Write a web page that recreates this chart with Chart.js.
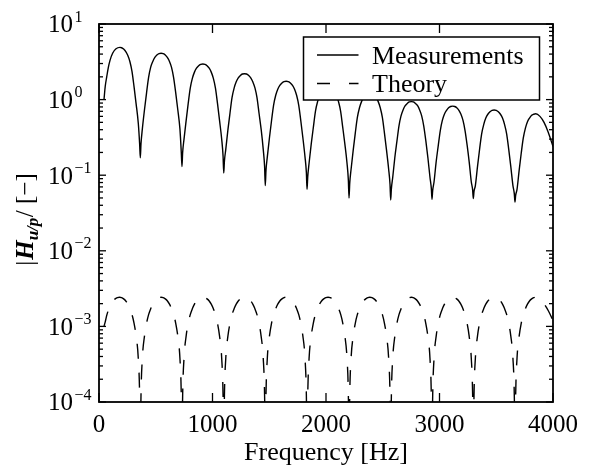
<!DOCTYPE html>
<html>
<head>
<meta charset="utf-8">
<script src="https://cdn.jsdelivr.net/npm/chart.js@4/dist/chart.umd.min.js"></script>
<style>
  html, body { margin: 0; padding: 0; background: #fff; }
  #wrap { width: 593px; height: 474px; }
</style>
</head>
<body>
<div id="wrap"><canvas id="c" width="593" height="474"></canvas></div>
<script>
// ---------- data ----------
const seriesNames = ['Measurements', 'Theory'];

const measFreq = [
  44,55,68,82,97,120,150,185,199,217,236,254,272,291,309,327,346,358,364,
  370,382,401,419,437,455,474,492,510,529,547,566,584,602,621,639,657,676,694,713,725,731,
  737,749,768,786,804,823,841,859,878,896,915,934,952,971,989,1007,1026,1044,1062,1081,1093,1099,
  1105,1117,1136,1154,1172,1191,1209,1227,1246,1264,1282,1300,1319,1337,1355,1374,1392,1410,1429,1447,1459,1465,
  1471,1483,1502,1520,1538,1557,1575,1593,1612,1630,1649,1668,1686,1705,1723,1741,1760,1778,1796,1815,1827,1833,
  1839,1851,1870,1889,1907,1926,1944,1963,1981,2000,2018,2036,2055,2073,2092,2110,2129,2147,2166,2185,2197,2203,
  2209,2221,2240,2258,2276,2295,2313,2331,2350,2368,2386,2405,2423,2442,2460,2478,2497,2515,2533,2552,2564,2570,
  2576,2588,2606,2625,2643,2661,2679,2698,2716,2734,2752,2770,2788,2807,2825,2843,2861,2880,2898,2916,2928,2934,
  2940,2952,2970,2989,3007,3025,3043,3062,3080,3098,3116,3134,3152,3171,3189,3207,3225,3244,3262,3280,3292,3298,
  3304,3316,3335,3353,3371,3390,3408,3426,3445,3463,3481,3500,3518,3537,3555,3573,3592,3610,3628,3647,3659,3665,
  3671,3683,3702,3720,3738,3757,3775,3793,3812,3830,3848,3885,3921,3958,4000
];
const measMag = [
  1.0,1.5,2.0,2.65,3.3,4.1,4.7,4.9,4.85,4.66,4.31,3.82,3.19,2.35,1.47,0.88,0.49,0.26,0.17,
  .26,.41,.74,1.23,1.97,2.67,3.2,3.61,3.9,4.06,4.1,4.06,3.9,3.61,3.2,2.67,1.97,1.23,.74,.41,.2,.13,
  .2,.3,.53,.89,1.42,1.92,2.31,2.6,2.81,2.93,2.96,2.93,2.81,2.6,2.31,1.92,1.42,.89,.53,.3,.18,.107,
  .153,.22,.4,.66,1.06,1.43,1.72,1.94,2.09,2.18,2.2,2.18,2.09,1.94,1.72,1.43,1.06,.66,.4,.22,.13,.073,
  .114,.175,.315,.525,.84,1.14,1.37,1.54,1.66,1.73,1.75,1.73,1.66,1.54,1.37,1.14,.84,.525,.315,.175,.109,.065,
  .095,.145,.26,.435,.70,.94,1.13,1.28,1.38,1.44,1.45,1.44,1.38,1.28,1.13,.94,.70,.435,.26,.145,.086,.05,
  .078,.12,.216,.36,.576,.78,.94,1.06,1.14,1.19,1.2,1.19,1.14,1.06,.94,.78,.576,.36,.216,.12,.076,.047,
  .066,.094,.169,.282,.45,.61,.73,.83,.89,.93,.94,.93,.89,.83,.73,.61,.45,.282,.169,.094,.067,.048,
  .063,.082,.148,.246,.39,.53,.64,.72,.78,.81,.82,.81,.78,.72,.64,.53,.39,.246,.148,.082,.064,.049,
  .061,.073,.131,.219,.35,.47,.57,.64,.69,.72,.73,.72,.69,.64,.57,.47,.35,.219,.131,.073,.057,.044,
  .054,.065,.117,.195,.31,.42,.51,.57,.62,.64,.65,.6,.5,.37,.24
];

const theoFreq = [
  44,55,70,88,107,125,143,162,181,199,217,236,254,272,291,309,327,346,358,362,364,
  366,370,382,401,419,437,456,474,492,511,529,547,566,584,603,621,639,658,676,694,713,725,729,731,
  733,737,749,768,786,804,823,841,859,878,896,915,934,952,971,989,1007,1026,1044,1062,1081,1093,1097,1099,
  1101,1105,1117,1136,1154,1172,1191,1209,1227,1246,1264,1282,1300,1318,1337,1355,1373,1392,1410,1428,1447,1459,1463,1465,
  1467,1471,1483,1502,1520,1538,1557,1575,1593,1612,1630,1649,1668,1686,1705,1723,1741,1760,1778,1796,1815,1827,1831,1833,
  1835,1839,1851,1870,1888,1906,1925,1943,1961,1980,1998,2018,2038,2056,2075,2093,2111,2130,2148,2166,2185,2197,2201,2203,
  2205,2209,2221,2240,2258,2276,2295,2313,2331,2350,2368,2386,2405,2423,2442,2460,2478,2497,2515,2533,2552,2564,2568,2570,
  2572,2576,2588,2607,2625,2643,2662,2680,2698,2717,2735,2752,2769,2787,2806,2824,2842,2861,2879,2897,2916,2928,2932,2934,
  2936,2940,2952,2971,2989,3007,3026,3044,3062,3081,3099,3116,3133,3151,3170,3188,3206,3225,3243,3261,3280,3292,3296,3298,
  3300,3304,3316,3335,3353,3371,3390,3408,3426,3445,3463,3481,3500,3518,3537,3555,3573,3592,3610,3628,3647,3659,3663,3665,
  3667,3671,3683,3702,3720,3738,3757,3775,3793,3812,3830,3848,3885,3920,3960,4000
];
const theoMag = [
  1.0e-3,1.15e-3,1.43e-3,1.72e-3,1.97e-3,2.17e-3,2.31e-3,2.4e-3,2.43e-3,2.4e-3,2.31e-3,2.17e-3,1.97e-3,1.72e-3,1.43e-3,1.1e-3,7.5e-4,3.8e-4,1.22e-4,3.8e-5,1e-5,
  3.8e-5,1.22e-4,3.8e-4,7.5e-4,1.1e-3,1.43e-3,1.72e-3,1.97e-3,2.17e-3,2.31e-3,2.4e-3,2.43e-3,2.4e-3,2.31e-3,2.17e-3,1.97e-3,1.72e-3,1.43e-3,1.1e-3,7.5e-4,3.8e-4,1.22e-4,3.8e-5,1e-5,
  3.8e-5,1.22e-4,3.8e-4,7.5e-4,1.1e-3,1.43e-3,1.72e-3,1.97e-3,2.17e-3,2.31e-3,2.4e-3,2.43e-3,2.4e-3,2.31e-3,2.17e-3,1.97e-3,1.72e-3,1.43e-3,1.1e-3,7.5e-4,3.8e-4,1.22e-4,3.8e-5,1e-5,
  3.8e-5,1.22e-4,3.8e-4,7.5e-4,1.1e-3,1.43e-3,1.72e-3,1.97e-3,2.17e-3,2.31e-3,2.4e-3,2.43e-3,2.4e-3,2.31e-3,2.17e-3,1.97e-3,1.72e-3,1.43e-3,1.1e-3,7.5e-4,3.8e-4,1.22e-4,3.8e-5,1e-5,
  3.8e-5,1.22e-4,3.8e-4,7.5e-4,1.1e-3,1.43e-3,1.72e-3,1.97e-3,2.17e-3,2.31e-3,2.4e-3,2.43e-3,2.4e-3,2.31e-3,2.17e-3,1.97e-3,1.72e-3,1.43e-3,1.1e-3,7.5e-4,3.8e-4,1.22e-4,3.8e-5,1e-5,
  3.8e-5,1.22e-4,3.8e-4,7.5e-4,1.1e-3,1.43e-3,1.72e-3,1.97e-3,2.17e-3,2.31e-3,2.4e-3,2.43e-3,2.4e-3,2.31e-3,2.17e-3,1.97e-3,1.72e-3,1.43e-3,1.1e-3,7.5e-4,3.8e-4,1.22e-4,3.8e-5,1e-5,
  3.8e-5,1.22e-4,3.8e-4,7.5e-4,1.1e-3,1.43e-3,1.72e-3,1.97e-3,2.17e-3,2.31e-3,2.4e-3,2.43e-3,2.4e-3,2.31e-3,2.17e-3,1.97e-3,1.72e-3,1.43e-3,1.1e-3,7.5e-4,3.8e-4,1.22e-4,3.8e-5,1e-5,
  3.8e-5,1.22e-4,3.8e-4,7.5e-4,1.1e-3,1.43e-3,1.72e-3,1.97e-3,2.17e-3,2.31e-3,2.4e-3,2.43e-3,2.4e-3,2.31e-3,2.17e-3,1.97e-3,1.72e-3,1.43e-3,1.1e-3,7.5e-4,3.8e-4,1.22e-4,3.8e-5,1e-5,
  3.8e-5,1.22e-4,3.8e-4,7.5e-4,1.1e-3,1.43e-3,1.72e-3,1.97e-3,2.17e-3,2.31e-3,2.4e-3,2.43e-3,2.4e-3,2.31e-3,2.17e-3,1.97e-3,1.72e-3,1.43e-3,1.1e-3,7.5e-4,3.8e-4,1.22e-4,3.8e-5,1e-5,
  3.8e-5,1.22e-4,3.8e-4,7.5e-4,1.1e-3,1.43e-3,1.72e-3,1.97e-3,2.17e-3,2.31e-3,2.4e-3,2.43e-3,2.4e-3,2.31e-3,2.17e-3,1.97e-3,1.72e-3,1.43e-3,1.1e-3,7.5e-4,3.8e-4,1.22e-4,3.8e-5,1e-5,
  3.8e-5,1.22e-4,3.8e-4,7.5e-4,1.1e-3,1.43e-3,1.72e-3,1.97e-3,2.17e-3,2.31e-3,2.4e-3,2.43e-3,2.3e-3,2.0e-3,1.6e-3,1.2e-3
];

const xTickValues = [0, 1000, 2000, 3000, 4000];
const xTickLabels = ['0', '1000', '2000', '3000', '4000'];
const yDecadeExponents = [-4, -3, -2, -1, 0, 1];
const xTitle = 'Frequency [Hz]';
const yTitleParts = ['|', 'H', 'u/p', '/ [\u2212]'];

// ---------- drawing ----------
const SERIF = '"Liberation Serif", "Times New Roman", serif';

const framePlugin = {
  id: 'frame',
  afterDatasetsDraw(chart) {
    const { ctx, chartArea: a, scales: { x, y } } = chart;
    ctx.save();
    ctx.strokeStyle = '#000';
    ctx.fillStyle = '#000';

    // legend box
    const lx = 303.5, ly = 37, lw = 236, lh = 63;
    ctx.fillStyle = '#fff';
    ctx.fillRect(lx, ly, lw, lh);
    ctx.lineWidth = 1.5;
    ctx.strokeRect(lx, ly, lw, lh);
    ctx.fillStyle = '#000';
    const ds = chart.data.datasets;
    const rows = [55, 83.5];
    const legendDash = [[], [13, 19]];
    ds.forEach((d, i) => {
      ctx.beginPath();
      ctx.lineWidth = 1.3;
      ctx.setLineDash(legendDash[i]);
      ctx.moveTo(317, rows[i]);
      ctx.lineTo(358.5, rows[i]);
      ctx.stroke();
      ctx.setLineDash([]);
      ctx.font = '26px ' + SERIF;
      ctx.textAlign = 'left';
      ctx.textBaseline = 'alphabetic';
      ctx.fillText(d.label, 372, rows[i] + 8.5);
    });

    // axes box
    ctx.lineWidth = 1.8;
    ctx.strokeRect(a.left, a.top, a.right - a.left, a.bottom - a.top);

    // x ticks (inward, bottom and top)
    ctx.lineWidth = 1.3;
    const seg = (x1, y1, x2, y2) => { ctx.beginPath(); ctx.moveTo(x1, y1); ctx.lineTo(x2, y2); ctx.stroke(); };
    xTickValues.forEach(v => {
      const px = x.getPixelForValue(v);
      seg(px, a.bottom, px, a.bottom - 9);
      seg(px, a.top, px, a.top + 9);
    });

    // y ticks (inward, left and right) + labels
    yDecadeExponents.forEach(e => {
      const base = Math.pow(10, e);
      const py = y.getPixelForValue(base);
      seg(a.left, py, a.left + 7, py);
      seg(a.right, py, a.right - 7, py);
      if (e < yDecadeExponents[yDecadeExponents.length - 1]) {
        for (let k = 2; k <= 9; k++) {
          const pm = y.getPixelForValue(k * base);
          seg(a.left, pm, a.left + 4, pm);
          seg(a.right, pm, a.right - 4, pm);
        }
      }
      ctx.font = '25px ' + SERIF;
      ctx.textAlign = 'right';
      ctx.textBaseline = 'alphabetic';
      ctx.fillText('10', 73, py + 8.3);
      ctx.font = '16px ' + SERIF;
      ctx.textAlign = 'left';
      ctx.fillText(e < 0 ? '\u2212' + (-e) : String(e), 74.5, py - 2.5);
    });

    // y axis title (rotated, mixed fonts)
    const fonts = ['25px ' + SERIF, 'italic bold 25px ' + SERIF, 'italic bold 17px ' + SERIF, '25px ' + SERIF];
    const shifts = [0, 0, 5, 0];
    const gaps = [1, 0, 0.5, 0];
    let total = 0;
    const widths = yTitleParts.map((t, i) => { ctx.font = fonts[i]; const w = ctx.measureText(t).width; total += w + gaps[i]; return w; });
    ctx.translate(33, 219.5);
    ctx.rotate(-Math.PI / 2);
    ctx.textAlign = 'left';
    ctx.textBaseline = 'alphabetic';
    let cx = -total / 2;
    yTitleParts.forEach((t, i) => {
      ctx.font = fonts[i];
      ctx.fillText(t, cx, shifts[i]);
      cx += widths[i] + gaps[i];
    });
    ctx.restore();
  }
};

const toPoints = (xs, ys) => xs.map((f, i) => ({ x: f, y: ys[i] }));

new Chart(document.getElementById('c'), {
  type: 'line',
  data: {
    datasets: [
      {
        label: seriesNames[0],
        data: toPoints(measFreq, measMag),
        borderColor: '#000',
        borderWidth: 1.4,
        pointRadius: 0,
        fill: false,
        cubicInterpolationMode: 'monotone'
      },
      {
        label: seriesNames[1],
        data: toPoints(theoFreq, theoMag),
        borderColor: '#000',
        borderWidth: 1.4,
        borderDash: [15, 14],
        pointRadius: 0,
        fill: false,
        cubicInterpolationMode: 'monotone'
      }
    ]
  },
  options: {
    responsive: false,
    animation: false,
    events: [],
    layout: { padding: { left: 0, right: 40, top: 24, bottom: 0 } },
    plugins: { legend: { display: false }, tooltip: { enabled: false } },
    scales: {
      x: {
        type: 'linear',
        min: 0,
        max: 4000,
        afterFit(s) { s.height = 72; },
        afterBuildTicks(s) { s.ticks = xTickValues.map(v => ({ value: v })); },
        grid: { display: false, drawTicks: false },
        border: { display: false },
        ticks: {
          color: '#000', font: { family: SERIF, size: 25 }, padding: 8, maxRotation: 0, autoSkip: false,
          callback: (v) => xTickLabels[xTickValues.indexOf(v)] ?? String(v)
        },
        title: { display: true, text: xTitle, color: '#000', font: { family: SERIF, size: 26 }, padding: { top: 0, bottom: 5 } }
      },
      y: {
        type: 'logarithmic',
        min: 1e-4,
        max: 10,
        afterFit(s) { s.width = 99; },
        grid: { display: false, drawTicks: false },
        border: { display: false },
        ticks: { display: false }
      }
    }
  },
  plugins: [framePlugin]
});
</script>
</body>
</html>
